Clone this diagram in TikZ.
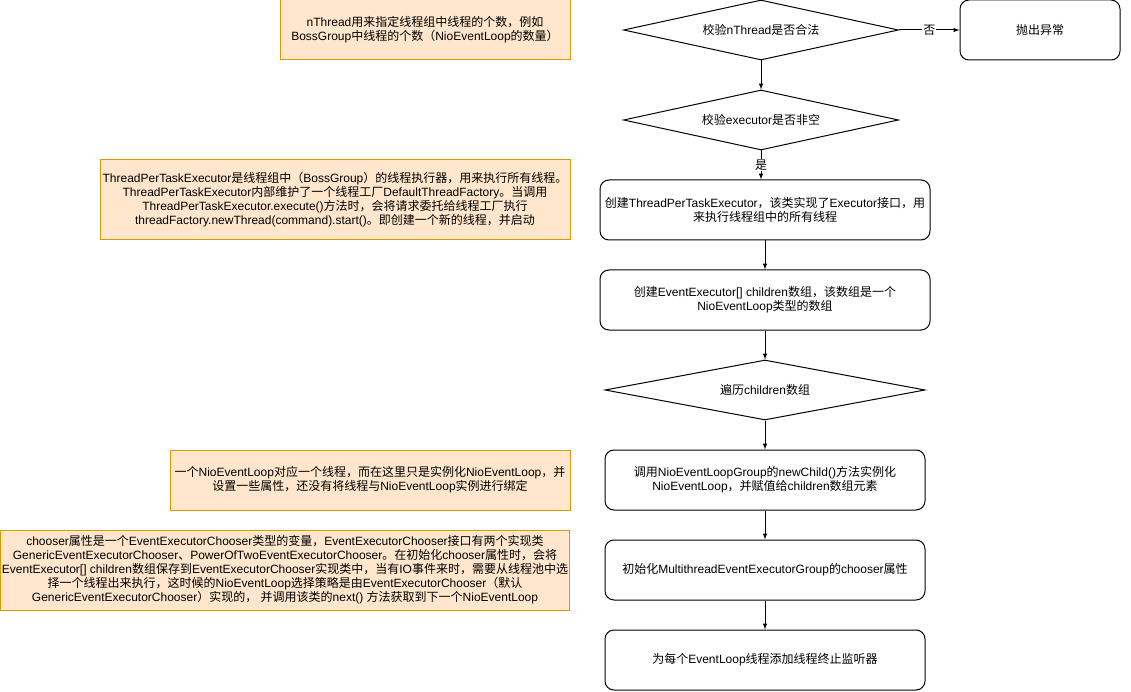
\documentclass[tikz,border=0pt]{standalone}
\usepackage{fontspec}
\setmainfont{Liberation Sans}
\newfontfamily\cjkfont{Noto Sans CJK SC}
\usetikzlibrary{shapes.geometric, positioning}
% switch to the CJK font for Chinese characters and back
\XeTeXinterchartokenstate=1
\newXeTeXintercharclass\cjkclass
\newcount\chrno
\def\markrange#1#2{\chrno=#1\relax
  \loop\XeTeXcharclass\chrno=\cjkclass\advance\chrno by 1\relax
  \ifnum\chrno<#2\repeat}
\markrange{"4E00}{"A000}
\markrange{"3000}{"3040}
\markrange{"FF00}{"FFF0}
\XeTeXinterchartoks 0 \cjkclass = {\cjkfont}
\XeTeXinterchartoks 4095 \cjkclass = {\cjkfont}
\XeTeXinterchartoks \cjkclass 0 = {\rmfamily}
\XeTeXinterchartoks \cjkclass 4095 = {\rmfamily}
\definecolor{notefill}{HTML}{FFE6CC}
\definecolor{noteline}{HTML}{D79B00}
\tikzset{
  stepbox/.style={draw, rounded corners=9pt, minimum width=320pt, minimum height=60pt, align=center, inner sep=0pt},
  check/.style={draw, diamond, aspect=4.6, minimum width=275pt, minimum height=60pt, inner sep=0pt},
  note/.style={draw=noteline, fill=notefill, align=center, inner sep=0pt},
  lbl/.style={fill=white, inner sep=1pt}
}

\begin{document}
\begin{tikzpicture}[>=latex, x=1pt, y=-1pt, line width=1pt, font=\fontsize{12}{14}\selectfont]
  \useasboundingbox (0,0) rectangle (1131,692);
  % flow
  \node [check] (chk) at (761,30) {校验nThread是否合法};
  \node [stepbox, minimum width=160pt] (err) at (1040,30) {抛出异常};
  \node [check] (exe) at (761,120) {校验executor是否非空};
  \node [stepbox, minimum width=330pt] (tpe) at (765,210) {创建ThreadPerTaskExecutor，该类实现了Executor接口，用\\来执行线程组中的所有线程};
  \node [stepbox, minimum width=330pt] (arr) at (765,300) {创建EventExecutor[] children数组，该数组是一个\\NioEventLoop类型的数组};
  \node [check, minimum width=320pt, aspect=5.3] (loop) at (765,390) {遍历children数组};
  \node [stepbox] (child) at (765,480) {调用NioEventLoopGroup的newChild()方法实例化\\NioEventLoop，并赋值给children数组元素};
  \node [stepbox] (choose) at (765,570) {初始化MultithreadEventExecutorGroup的chooser属性};
  \node [stepbox] (term) at (765,660) {为每个EventLoop线程添加线程终止监听器};
  % arrows
  \draw [->] (chk) -- node [lbl] {否} (err);
  \draw [->] (chk) -- (exe);
  \draw [->] (exe.south) -- node [lbl] {是} (exe.south |- tpe.north);
  \draw [->] (tpe) -- (arr);
  \draw [->] (arr) -- (loop);
  \draw [->] (loop) -- (child);
  \draw [->] (child) -- (choose);
  \draw [->] (choose) -- (term);
  % notes
  \node [note, minimum width=290pt, minimum height=60pt] (n1) at (425,30) {nThread用来指定线程组中线程的个数，例如\\BossGroup中线程的个数（NioEventLoop的数量）};
  \node [note, minimum width=470pt, minimum height=80pt] (n2) at (335,200) {ThreadPerTaskExecutor是线程组中（BossGroup）的线程执行器，用来执行所有线程。\\ThreadPerTaskExecutor内部维护了一个线程工厂DefaultThreadFactory。当调用\\ThreadPerTaskExecutor.execute()方法时，会将请求委托给线程工厂执行\\threadFactory.newThread(command).start()。即创建一个新的线程，并启动};
  \node [note, minimum width=400pt, minimum height=60pt] (n3) at (370,480) {一个NioEventLoop对应一个线程，而在这里只是实例化NioEventLoop，并\\设置一些属性，还没有将线程与NioEventLoop实例进行绑定};
  \node [note, minimum width=569pt, minimum height=80pt] (n4) at (285,570) {chooser属性是一个EventExecutorChooser类型的变量，EventExecutorChooser接口有两个实现类\\GenericEventExecutorChooser、PowerOfTwoEventExecutorChooser。在初始化chooser属性时，会将\\EventExecutor[] children数组保存到EventExecutorChooser实现类中，当有IO事件来时，需要从线程池中选\\择一个线程出来执行，这时候的NioEventLoop选择策略是由EventExecutorChooser（默认\\GenericEventExecutorChooser）实现的， 并调用该类的next() 方法获取到下一个NioEventLoop};
\end{tikzpicture}
\end{document}
